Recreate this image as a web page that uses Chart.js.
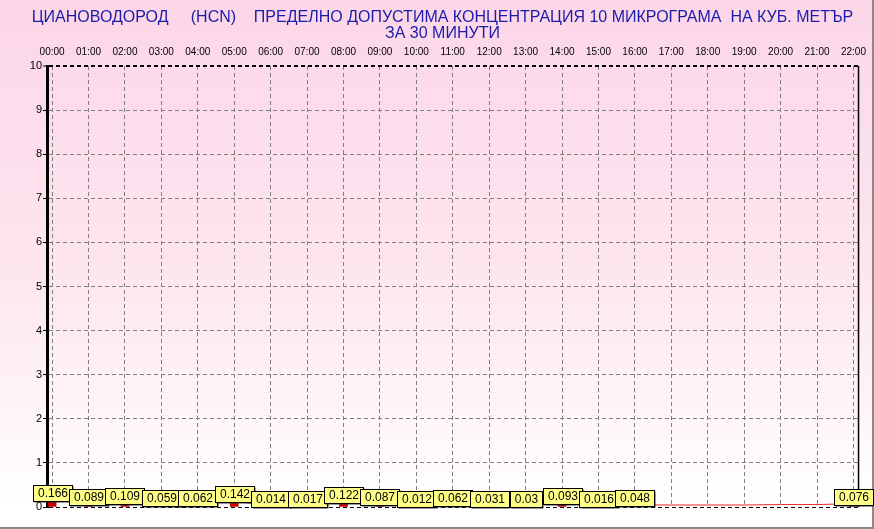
<!DOCTYPE html>
<html>
<head>
<meta charset="utf-8">
<script src="https://cdn.jsdelivr.net/npm/chart.js@4.4.0/dist/chart.umd.min.js"></script>
<style>
  html, body { margin: 0; padding: 0; background: #fff; }
</style>
</head>
<body>
<canvas id="hcnChart" width="874" height="529"></canvas>
<script>
// chart data
const titleLines = [
  "ЦИАНОВОДОРОД     (HCN)    ПРЕДЕЛНО ДОПУСТИМА КОНЦЕНТРАЦИЯ 10 МИКРОГРАМА  НА КУБ. МЕТЪР",
  "ЗА 30 МИНУТИ"
];
const hourLabels = ["00:00", "01:00", "02:00", "03:00", "04:00", "05:00", "06:00", "07:00",
  "08:00", "09:00", "10:00", "11:00", "12:00", "13:00", "14:00", "15:00", "16:00",
  "17:00", "18:00", "19:00", "20:00", "21:00", "22:00"];
const hourPositions = [0, 1, 2, 3, 4, 5, 6, 7, 8, 9, 10, 11, 12, 13, 14, 15, 16, 17, 18, 19, 20, 21, 22];
// hourly values (null = no reading)
const hcnValues = [0.166, 0.089, 0.109, 0.059, 0.062, 0.142, 0.014, 0.017, 0.122, 0.087,
  0.012, 0.062, 0.031, 0.03, 0.093, 0.016, 0.048, null, null, null, null, null, 0.076];
// thin red trace near the baseline
const traceValues = [0.166, 0.089, 0.109, 0.059, 0.062, 0.142, 0.014, 0.017, 0.122, 0.087,
  0.012, 0.062, 0.031, 0.03, 0.093, 0.016, 0.048, 0.045, 0.045, 0.045, 0.055, 0.055, 0.076];
const yTickValues = [0, 1, 2, 3, 4, 5, 6, 7, 8, 9, 10];

const fontFamily = "'Liberation Sans', Arial, sans-serif";

// pink page background
const bgPlugin = {
  id: "bg",
  beforeDraw(chart) {
    const c = chart.ctx;
    const g = c.createLinearGradient(0, 0, 0, chart.height);
    g.addColorStop(0, "#fcd6e8");
    g.addColorStop(0.5, "#fde5ef");
    g.addColorStop(0.96, "#ffffff");
    g.addColorStop(1, "#ffffff");
    c.save();
    c.fillStyle = g;
    c.fillRect(0, 0, chart.width, chart.height);
    c.strokeStyle = "#8a8a8a";
    c.lineWidth = 2;
    c.beginPath();
    c.moveTo(0, chart.height - 1);
    c.lineTo(chart.width - 1, chart.height - 1);
    c.lineTo(chart.width - 1, 0);
    c.stroke();
    c.restore();
  }
};

// right frame line
const framePlugin = {
  id: "frame",
  beforeDatasetsDraw(chart) {
    const a = chart.chartArea;
    const c = chart.ctx;
    c.save();
    c.strokeStyle = "#000";
    c.lineWidth = 1.5;
    c.beginPath();
    c.moveTo(a.right, a.top);
    c.lineTo(a.right, a.bottom);
    c.stroke();
    c.restore();
  }
};

// yellow value boxes
const boxPlugin = {
  id: "boxes",
  afterDatasetsDraw(chart) {
    const c = chart.ctx;
    const xs = chart.scales.x;
    const ys = chart.scales.y;
    c.save();
    c.font = "12px " + fontFamily;
    c.textAlign = "center";
    c.textBaseline = "middle";
    hcnValues.forEach((v, i) => {
      if (v === null) return;
      const txt = String(v);
      const x = xs.getPixelForValue(hourPositions[i]);
      const w = Math.round(c.measureText(txt).width) + 9;
      const h = 16;
      const bottom = Math.min(ys.getPixelForValue(v) + 1.5, 507);
      const left = Math.round(x - w / 2) + 0.5;
      const top = Math.round(bottom - h) + 0.5;
      c.fillStyle = "#333";
      c.fillRect(left + 1, top + 1, w, h);
      c.fillStyle = "#ffff88";
      c.fillRect(left, top, w, h);
      c.strokeStyle = "#000";
      c.lineWidth = 1;
      c.strokeRect(left, top, w, h);
      c.fillStyle = "#000";
      c.fillText(txt, left + w / 2, top + h / 2 + 0.5);
    });
    c.restore();
  }
};

const ctx = document.getElementById("hcnChart").getContext("2d");

new Chart(ctx, {
  data: {
    datasets: [
      {
        type: "line",
        data: hourPositions.map((p, i) => ({ x: p, y: traceValues[i] })),
        borderColor: "#e02828",
        borderWidth: 1,
        pointRadius: 0,
        tension: 0,
        order: 2
      },
      {
        type: "bar",
        data: hourPositions.map((p, i) => ({ x: p, y: hcnValues[i] })),
        backgroundColor: "#c80000",
        borderWidth: 0,
        barThickness: 8,
        order: 1
      }
    ]
  },
  options: {
    responsive: false,
    animation: false,
    layout: { padding: { left: 20, right: 9, top: 0, bottom: 22 } },
    plugins: {
      legend: { display: false },
      tooltip: { enabled: false },
      title: {
        display: true,
        text: titleLines,
        color: "#1c1caa",
        font: { family: fontFamily, size: 16, weight: "normal", lineHeight: 1.0 },
        padding: { top: 10, bottom: 0 }
      }
    },
    scales: {
      x: {
        type: "linear",
        position: "top",
        offset: false,
        min: -0.14,
        max: 22.14,
        afterFit: (s) => { s.height = 24; },
        ticks: {
          stepSize: 1,
          includeBounds: false,
          autoSkip: false,
          maxRotation: 0,
          padding: 8,
          color: "#000",
          font: { family: fontFamily, size: 10 },
          callback: (v) => hourLabels[v]
        },
        grid: { offset: false, color: "#808080", lineWidth: 1, drawTicks: false },
        border: { display: false, dash: [4, 3] }
      },
      y: {
        min: 0,
        max: 10,
        afterFit: (s) => { s.width = 27; },
        afterBuildTicks: (s) => { s.ticks = yTickValues.map(v => ({ value: v })); },
        ticks: {
          padding: 1,
          color: "#000",
          font: { family: fontFamily, size: 11 }
        },
        grid: {
          color: (c) => (c.tick && (c.tick.value === 0 || c.tick.value === 10)) ? "#000" : "#808080",
          lineWidth: (c) => (c.tick && c.tick.value === 10) ? 2 : 1,
          tickLength: 4,
          tickColor: "#000",
          tickWidth: 1
        },
        border: { display: true, color: "#000", width: 3, dash: [4, 3] }
      }
    }
  },
  plugins: [bgPlugin, framePlugin, boxPlugin]
});
</script>
</body>
</html>
